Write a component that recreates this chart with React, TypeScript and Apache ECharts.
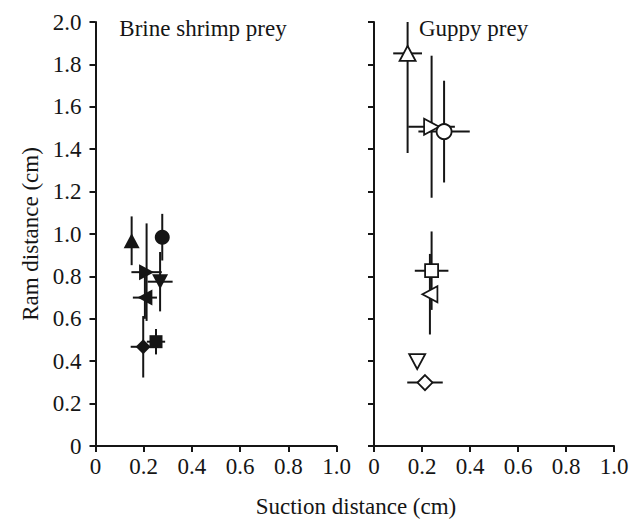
import React, { useEffect, useRef } from "react";
import * as echarts from "echarts";

// Brine shrimp prey (filled markers)
const shrimpX = [0.15, 0.277, 0.212, 0.205, 0.268, 0.198, 0.251];
const shrimpY = [0.968, 0.985, 0.82, 0.7, 0.775, 0.468, 0.492];
const shrimpXErr = [0, 0, 0.063, 0.05, 0.052, 0.052, 0.038];
const shrimpYErr = [0.115, 0.11, 0.23, 0.1, 0.14, 0.145, 0.06];
const shrimpMarkers = ["up", "circle", "right", "left", "down", "diamond", "square"];

// Guppy prey (open markers)
const guppyX = [0.14, 0.24, 0.292, 0.24, 0.233, 0.18, 0.2125];
const guppyY = [1.852, 1.506, 1.483, 0.827, 0.716, 0.398, 0.299];
const guppyXErr = [0.06, 0.097, 0.107, 0.07, 0, 0, 0.074];
const guppyYErr = [0.47, 0.335, 0.24, 0.185, 0.19, 0, 0];
const guppyMarkers = ["up", "right", "circle", "square", "left", "down", "diamond"];

const panelTitles = ["Brine shrimp prey", "Guppy prey"];
const xAxisTitle = "Suction distance (cm)";
const yAxisTitle = "Ram distance (cm)";

const FONT = "Liberation Serif";
const INK = "#151515";

const markerStyle: Record<string, { symbol: string; rotate: number; size: number[] }> = {
  up: { symbol: "triangle", rotate: 0, size: [16, 15] },
  down: { symbol: "triangle", rotate: 180, size: [16, 15] },
  left: { symbol: "triangle", rotate: 90, size: [16, 15] },
  right: { symbol: "triangle", rotate: -90, size: [16, 15] },
  circle: { symbol: "circle", rotate: 0, size: [15, 15] },
  square: { symbol: "rect", rotate: 0, size: [13, 13] },
  diamond: { symbol: "diamond", rotate: 0, size: [15, 15] },
};

const fmt = (v: number) => (v === 0 ? "0" : v.toFixed(1));

export default function App() {
  const ref = useRef<HTMLDivElement>(null);
  useEffect(() => {
    const chart = echarts.init(ref.current!, null, { renderer: "svg" });

    const errRender = (params: any, api: any) => {
      const x = api.value(0);
      const y = api.value(1);
      const ex = api.value(2);
      const ey = api.value(3);
      const style = { stroke: INK, lineWidth: 2 };
      const children: any[] = [];
      if (ey > 0) {
        const t = api.coord([x, Math.min(y + ey, 2)]);
        const b = api.coord([x, Math.max(y - ey, 0)]);
        children.push({ type: "line", shape: { x1: t[0], y1: t[1], x2: b[0], y2: b[1] }, style });
      }
      if (ex > 0) {
        const l = api.coord([Math.max(x - ex, 0), y]);
        const r = api.coord([x + ex, y]);
        children.push({ type: "line", shape: { x1: l[0], y1: l[1], x2: r[0], y2: r[1] }, style });
      }
      return { type: "group", children };
    };

    const build = (xs: number[], ys: number[], mk: string[], open: boolean) =>
      xs.map((x, i) => {
        const m = markerStyle[mk[i]];
        return {
          value: [x, ys[i]],
          symbol: m.symbol,
          symbolRotate: m.rotate,
          symbolSize: m.size,
          itemStyle: open
            ? { color: "#fff", borderColor: INK, borderWidth: 1.8, opacity: 1 }
            : { color: INK, borderColor: INK, borderWidth: 0, opacity: 1 },
        };
      });

    const errData = (xs: number[], ys: number[], ex: number[], ey: number[]) =>
      xs.map((x, i) => [x, ys[i], ex[i], ey[i]]);

    const axisCommon = {
      min: 0,
      interval: 0.2,
      axisLine: { show: true, onZero: false, lineStyle: { color: INK, width: 2 } },
      axisTick: { show: true, inside: false, length: 6, lineStyle: { color: INK, width: 2 } },
      splitLine: { show: false },
      axisLabel: { fontFamily: FONT, fontSize: 23, color: INK, formatter: fmt },
    };

    const option: any = {
      animation: false,
      backgroundColor: "#fff",
      grid: [
        { left: 95.5, top: 22, width: 241, height: 424 },
        { left: 374, top: 22, width: 240, height: 424 },
      ],
      xAxis: [
        { ...axisCommon, type: "value", gridIndex: 0, max: 1, axisLabel: { ...axisCommon.axisLabel, margin: 9 } },
        { ...axisCommon, type: "value", gridIndex: 1, max: 1, axisLabel: { ...axisCommon.axisLabel, margin: 9 } },
      ],
      yAxis: [
        { ...axisCommon, type: "value", gridIndex: 0, max: 2, axisLabel: { ...axisCommon.axisLabel, margin: 14 } },
        { ...axisCommon, type: "value", gridIndex: 1, max: 2, axisLabel: { show: false } },
      ],
      series: [
        {
          type: "custom",
          xAxisIndex: 0,
          yAxisIndex: 0,
          renderItem: errRender,
          data: errData(shrimpX, shrimpY, shrimpXErr, shrimpYErr),
          encode: { x: 0, y: 1 },
          z: 1,
          silent: true,
        },
        {
          type: "custom",
          xAxisIndex: 1,
          yAxisIndex: 1,
          renderItem: errRender,
          data: errData(guppyX, guppyY, guppyXErr, guppyYErr),
          encode: { x: 0, y: 1 },
          z: 1,
          silent: true,
        },
        {
          type: "scatter",
          xAxisIndex: 0,
          yAxisIndex: 0,
          data: build(shrimpX, shrimpY, shrimpMarkers, false),
          itemStyle: { opacity: 1 },
          z: 3,
          silent: true,
        },
        {
          type: "scatter",
          xAxisIndex: 1,
          yAxisIndex: 1,
          data: build(guppyX, guppyY, guppyMarkers, true),
          itemStyle: { opacity: 1 },
          z: 3,
          silent: true,
        },
      ],
      graphic: [
        {
          type: "text",
          x: 203,
          y: 28,
          style: { text: panelTitles[0], font: `23px '${FONT}'`, fill: INK, align: "center", verticalAlign: "middle" },
        },
        {
          type: "text",
          x: 419,
          y: 28,
          style: { text: panelTitles[1], font: `23px '${FONT}'`, fill: INK, align: "left", verticalAlign: "middle" },
        },
        {
          type: "text",
          x: 356,
          y: 506,
          style: { text: xAxisTitle, font: `23px '${FONT}'`, fill: INK, align: "center", verticalAlign: "middle" },
        },
        {
          type: "text",
          x: 30,
          y: 234,
          rotation: Math.PI / 2,
          style: { text: yAxisTitle, font: `23px '${FONT}'`, fill: INK, align: "center", verticalAlign: "middle" },
        },
      ],
    };
    chart.setOption(option);
    return () => chart.dispose();
  }, []);
  return (
    <div
      ref={ref}
      style={{ position: "fixed", left: 0, top: 0, width: 639, height: 519, background: "#fff" }}
    />
  );
}
